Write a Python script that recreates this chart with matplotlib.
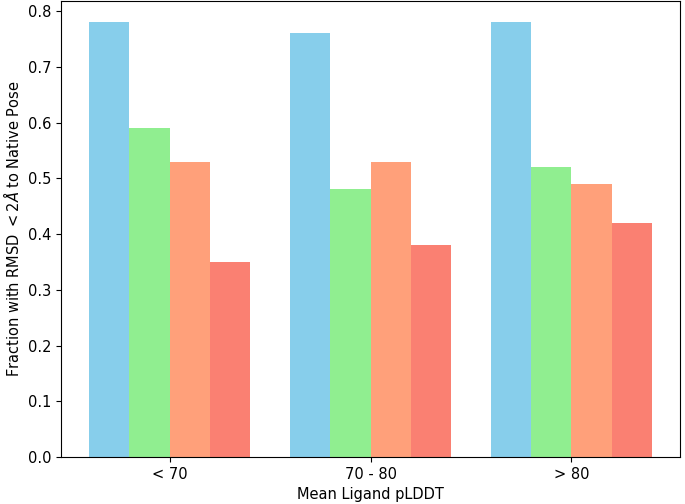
import matplotlib
matplotlib.use("Agg")
import matplotlib.pyplot as plt
import numpy as np

groups = ["< 70", "70 - 80", "> 80"]
series = [
    [0.78, 0.76, 0.78],
    [0.59, 0.48, 0.52],
    [0.53, 0.53, 0.49],
    [0.35, 0.38, 0.42],
]
colors = ["skyblue", "lightgreen", "lightsalmon", "salmon"]

fig, ax = plt.subplots(figsize=(6.85, 5.04), dpi=100)
fig.subplots_adjust(left=61 / 685, right=680 / 685, bottom=1 - 457 / 504, top=0.999)
x = np.arange(len(groups))
w = 0.2
for i, (vals, c) in enumerate(zip(series, colors)):
    ax.bar(x + (i - 1.5) * w, vals, w, color=c)
ax.set_xticks(x)
ax.set_xticklabels(groups)
ax.tick_params(labelsize=10.5)
ax.set_xlabel("Mean Ligand pLDDT", fontsize=10.5, labelpad=4)
ax.set_ylabel(r"Fraction with RMSD $<2\AA$ to Native Pose", fontsize=10.5, labelpad=4)
fig.savefig("out.png", dpi=100)
